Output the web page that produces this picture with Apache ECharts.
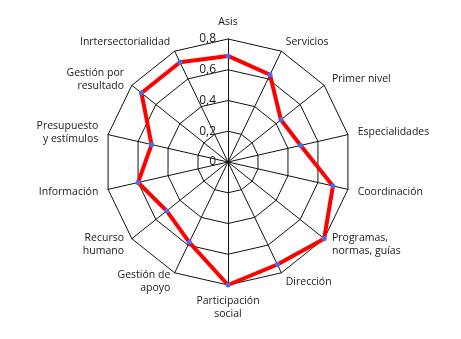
<!DOCTYPE html>
<html><head><meta charset="utf-8">
<script src="https://cdn.jsdelivr.net/npm/echarts@6/dist/echarts.min.js"></script>
<style>html,body{margin:0;padding:0;background:#fff}#c{width:461px;height:339px}</style>
</head><body><div id="c"></div>
<script>
// clockwise from top
const categories = ["Asis","Servicios","Primer nivel","Especialidades","Coordinación","Programas,\nnormas, guías","Dirección","Participación\nsocial","Gestión de\napoyo","Recurso\nhumano","Información","Presupuesto\ny estímulos","Gestión por\nresultado","Inrtersectorialidad"];
const values = [0.69,0.63,0.44,0.485,0.70,0.80,0.74,0.80,0.58,0.51,0.60,0.51,0.72,0.72];
const maxValue = 0.8;
const tickLabels = ["0","0,2","0,4","0,6","0,8"];

// ECharts lays radar axes counter-clockwise: keep the first, reverse the rest
const order = [0].concat(categories.map((_,i)=>i).slice(1).reverse());
const indicator = order.map((i,k)=>{
  const o = {name:categories[i], max:maxValue, min:0};
  if(k===0){ o.axisLabel = {show:true}; }
  return o;
});
const seriesValues = order.map(i=>values[i]);

const chart = echarts.init(document.getElementById('c'));
chart.setOption({
  animation:false,
  radar:{
    center:[228,162],
    radius:123,
    startAngle:90,
    splitNumber:4,
    shape:'polygon',
    indicator:indicator,
    nameGap:10,
    axisName:{color:'#1a1a1a',fontFamily:'Open Sans',fontSize:10.5,lineHeight:13},
    axisLine:{show:true,lineStyle:{color:'#111',width:1}},
    splitLine:{show:true,lineStyle:{color:'#111',width:1}},
    splitArea:{show:false},
    axisTick:{show:false},
    axisLabel:{show:false,color:'#1a1a1a',fontFamily:'Open Sans',fontSize:12,margin:12,
      formatter:function(v){const idx=Math.round(v/0.2);return tickLabels[idx]!==undefined?tickLabels[idx]:String(v).replace('.',',');}}
  },
  series:[{
    type:'radar',
    data:[{value:seriesValues}],
    symbol:'circle',
    symbolSize:5,
    lineStyle:{color:'#ff0000',width:4},
    itemStyle:{color:'#4a6cf0'}
  }]
});
</script></body></html>
